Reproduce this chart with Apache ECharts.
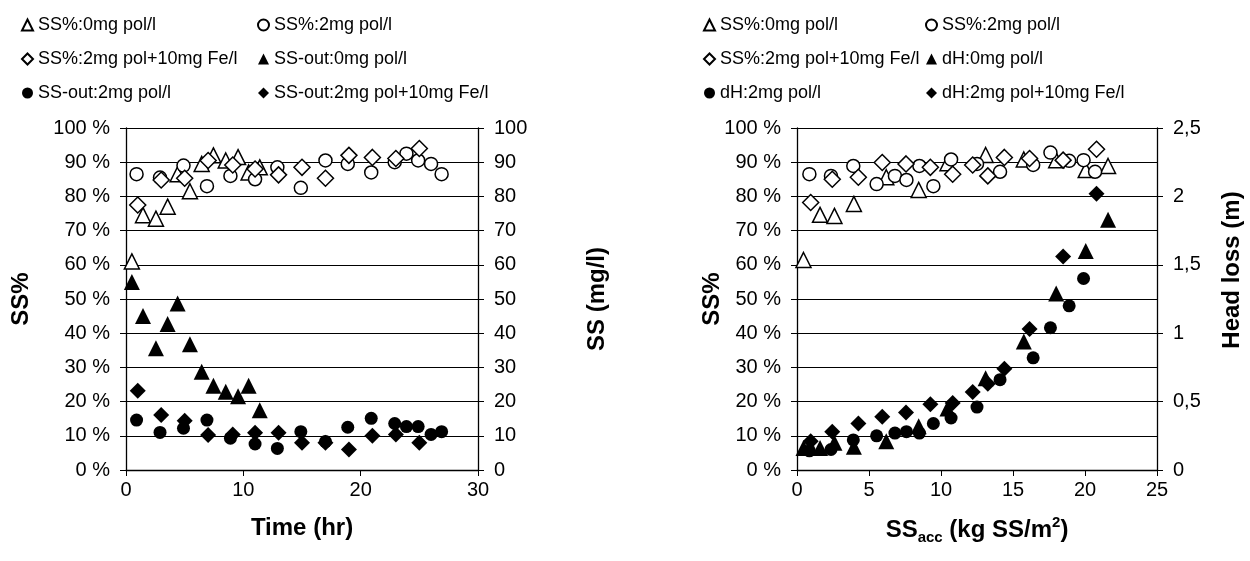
<!DOCTYPE html>
<html>
<head>
<meta charset="utf-8">
<script src="https://cdn.jsdelivr.net/npm/echarts@6/dist/echarts.min.js"></script>
<style>
html,body{margin:0;padding:0;background:#fff;}
#chart{width:1250px;height:561px;}
</style>
</head>
<body>
<div id="chart"></div>
<script>
// ---------- Left chart: vs time ----------
const time0 = [0.5, 1.45, 2.55, 3.55, 4.4, 5.45, 6.45, 7.45, 8.5, 9.55, 10.45, 11.4];
const ssPct0 = [61, 74.5, 73.5, 77, 86.5, 81.5, 89.5, 92, 90.5, 91.5, 87, 88.5];
const ssOut0 = [55, 45, 35.6, 42.7, 48.7, 36.8, 28.7, 24.6, 22.9, 21.6, 24.6, 17.5];

const time2 = [0.9, 2.9, 4.9, 6.9, 8.9, 11, 12.9, 14.9, 17, 18.9, 20.9, 22.9, 23.9, 24.9, 26, 26.9];
const ssPct2 = [86.5, 85.5, 89, 83, 86, 85, 88.5, 82.5, 90.5, 89.5, 87, 90, 92.5, 90.5, 89.5, 86.5];
const ssOut2 = [14.6, 11, 12.2, 14.6, 9.3, 7.6, 6.3, 11.2, 8.3, 12.5, 15.1, 13.6, 12.7, 12.7, 10.4, 11.2];

const timeFe = [1, 3, 5, 7, 9.1, 11, 13, 15, 17, 19, 21, 23, 25];
const ssPctFe = [77.5, 84.8, 85.3, 90.5, 89.2, 88, 86.3, 88.5, 85.3, 92, 91.4, 91.1, 94];
const ssOutFe = [23.2, 16.1, 14.4, 10.2, 10.4, 10.9, 10.9, 8, 8, 6, 10, 10.4, 8];

// ---------- Right chart: vs accumulated SS ----------
const acc0 = [0.45, 1.6, 2.6, 3.95, 6.2, 8.45, 10.45, 13.1, 15.75, 18, 20.05, 21.6];
const accPct0 = [61.4, 74.6, 74.3, 77.8, 85.6, 81.9, 89.7, 92.1, 90.8, 90.6, 87.7, 88.9];
const dH0 = [0.16, 0.16, 0.2, 0.17, 0.21, 0.32, 0.45, 0.67, 0.94, 1.29, 1.6, 1.83];

const acc2 = [0.86, 2.36, 3.91, 5.53, 6.8, 7.6, 8.5, 9.47, 10.7, 12.5, 14.1, 16.4, 17.6, 18.9, 19.9, 20.7];
const accPct2 = [86.5, 86, 88.9, 83.6, 86, 84.8, 88.9, 83, 90.8, 89.5, 87.2, 89.2, 92.8, 90.4, 90.6, 87.2];
const dH2 = [0.14, 0.15, 0.22, 0.25, 0.27, 0.28, 0.27, 0.34, 0.38, 0.46, 0.66, 0.82, 1.04, 1.2, 1.4, null];

const accFe = [0.95, 2.45, 4.26, 5.92, 7.57, 9.26, 10.81, 12.2, 13.25, 14.4, 16.15, 18.48, 20.8];
const accPctFe = [78.2, 85, 85.6, 89.9, 89.5, 88.5, 86.5, 89.2, 86, 91.4, 91.1, 90.6, 93.8];
const dHFe = [0.21, 0.28, 0.34, 0.39, 0.42, 0.48, 0.49, 0.57, 0.63, 0.74, 1.03, 1.56, 2.02];

// tick labels
const leftPctFmt = v => v + ' %';
const headFmt = v => String(v).replace('.', ',');

const pair = (xs, ys) => xs.map((x, i) => ys[i] == null ? null : [x, ys[i]]).filter(d => d);

const FONT = '"Liberation Sans", Arial, sans-serif';
const open = { color: '#fff', borderColor: '#000', borderWidth: 1.5, opacity: 1 };
const solid = { color: '#000', borderColor: '#000', borderWidth: 0, opacity: 1 };

function S(name, xi, yi, data, symbol, size, style) {
  return { type: 'scatter', name, xAxisIndex: xi, yAxisIndex: yi, data, symbol, symbolSize: size,
           itemStyle: style, emphasis: { disabled: true }, z: style === open ? 2 : 3 };
}

const series = [
  S('SS%:0mg pol/l', 0, 0, pair(time0, ssPct0), 'triangle', 15, open),
  S('SS%:2mg pol/l', 0, 0, pair(time2, ssPct2), 'circle', 13, open),
  S('SS%:2mg pol+10mg Fe/l', 0, 0, pair(timeFe, ssPctFe), 'diamond', 16, open),
  S('SS-out:0mg pol/l', 0, 1, pair(time0, ssOut0), 'triangle', 16, solid),
  S('SS-out:2mg pol/l', 0, 1, pair(time2, ssOut2), 'circle', 13, solid),
  S('SS-out:2mg pol+10mg Fe/l', 0, 1, pair(timeFe, ssOutFe), 'diamond', 16, solid),

  S('SS%:0mg pol/l', 1, 2, pair(acc0, accPct0), 'triangle', 15, open),
  S('SS%:2mg pol/l', 1, 2, pair(acc2, accPct2), 'circle', 13, open),
  S('SS%:2mg pol+10mg Fe/l', 1, 2, pair(accFe, accPctFe), 'diamond', 16, open),
  S('dH:0mg pol/l', 1, 3, pair(acc0, dH0), 'triangle', 16, solid),
  S('dH:2mg pol/l', 1, 3, pair(acc2, dH2), 'circle', 13, solid),
  S('dH:2mg pol+10mg Fe/l', 1, 3, pair(accFe, dHFe), 'diamond', 16, solid)
];

const axisLine = { show: true, onZero: false, lineStyle: { color: '#000', width: 1.3 } };
const tick = { show: true, length: 6, lineStyle: { color: '#000', width: 1 } };
const lbl = (extra) => Object.assign({ color: '#000', fontSize: 20, fontFamily: FONT }, extra || {});
const split = { show: true, lineStyle: { color: '#000', width: 1 } };

function legend(left, items) {
  return {
    left, top: 11, orient: 'vertical', itemGap: 16, itemWidth: 11, itemHeight: 11,
    selectedMode: false, data: items,
    textStyle: { color: '#000', fontSize: 18, fontFamily: FONT }
  };
}

const option = {
  animation: false,
  backgroundColor: '#fff',
  legend: [
    legend(16, ['SS%:0mg pol/l', 'SS%:2mg pol+10mg Fe/l', 'SS-out:2mg pol/l']),
    legend(252, ['SS%:2mg pol/l', 'SS-out:0mg pol/l', 'SS-out:2mg pol+10mg Fe/l']),
    legend(698, ['SS%:0mg pol/l', 'SS%:2mg pol+10mg Fe/l', 'dH:2mg pol/l']),
    legend(920, ['SS%:2mg pol/l', 'dH:0mg pol/l', 'dH:2mg pol+10mg Fe/l'])
  ],
  grid: [
    { left: 126, right: 772, top: 128, bottom: 91 },
    { left: 797, right: 93, top: 128, bottom: 91 }
  ],
  xAxis: [
    { gridIndex: 0, type: 'value', min: 0, max: 30, interval: 10, axisLine, axisTick: tick,
      axisLabel: lbl({ margin: 10 }), splitLine: { show: false } },
    { gridIndex: 1, type: 'value', min: 0, max: 25, interval: 5, axisLine, axisTick: tick,
      axisLabel: lbl({ margin: 10 }), splitLine: { show: false } }
  ],
  yAxis: [
    { gridIndex: 0, type: 'value', position: 'left', min: 0, max: 100, interval: 10, axisLine, axisTick: tick,
      axisLabel: lbl({ margin: 16, formatter: leftPctFmt }), splitLine: split },
    { gridIndex: 0, type: 'value', position: 'right', min: 0, max: 100, interval: 10, axisLine, axisTick: tick,
      axisLabel: lbl({ margin: 16 }), splitLine: { show: false } },
    { gridIndex: 1, type: 'value', position: 'left', min: 0, max: 100, interval: 10, axisLine, axisTick: tick,
      axisLabel: lbl({ margin: 16, formatter: leftPctFmt }), splitLine: split },
    { gridIndex: 1, type: 'value', position: 'right', min: 0, max: 2.5, interval: 0.5, axisLine, axisTick: tick,
      axisLabel: lbl({ margin: 16, formatter: headFmt }), splitLine: { show: false } }
  ],
  graphic: [
    { type: 'text', x: 21, y: 299, rotation: Math.PI / 2,
      style: { text: 'SS%', font: 'bold 24px ' + FONT, fill: '#000', textAlign: 'center', textVerticalAlign: 'middle' } },
    { type: 'text', x: 597, y: 299, rotation: Math.PI / 2,
      style: { text: 'SS (mg/l)', font: 'bold 24px ' + FONT, fill: '#000', textAlign: 'center', textVerticalAlign: 'middle' } },
    { type: 'text', x: 302, y: 528,
      style: { text: 'Time (hr)', font: 'bold 24px ' + FONT, fill: '#000', textAlign: 'center', textVerticalAlign: 'middle' } },
    { type: 'text', x: 712, y: 299, rotation: Math.PI / 2,
      style: { text: 'SS%', font: 'bold 24px ' + FONT, fill: '#000', textAlign: 'center', textVerticalAlign: 'middle' } },
    { type: 'text', x: 1232, y: 270, rotation: Math.PI / 2,
      style: { text: 'Head loss (m)', font: 'bold 24px ' + FONT, fill: '#000', textAlign: 'center', textVerticalAlign: 'middle' } },
    { type: 'text', x: 977, y: 530,
      style: {
        text: '{b|SS}{sub|acc}{b| (kg SS/m}{sup|2}{b|)}',
        textAlign: 'center', textVerticalAlign: 'middle', fill: '#000',
        rich: {
          b: { fontSize: 24, fontWeight: 'bold', fontFamily: FONT, lineHeight: 30, verticalAlign: 'middle' },
          sub: { fontSize: 15, fontWeight: 'bold', fontFamily: FONT, lineHeight: 16, verticalAlign: 'bottom' },
          sup: { fontSize: 15, fontWeight: 'bold', fontFamily: FONT, lineHeight: 16, verticalAlign: 'top' }
        }
      } }
  ],
  series
};

const chart = echarts.init(document.getElementById('chart'), null, { renderer: 'canvas' });
chart.setOption(option);
</script>
</body>
</html>
